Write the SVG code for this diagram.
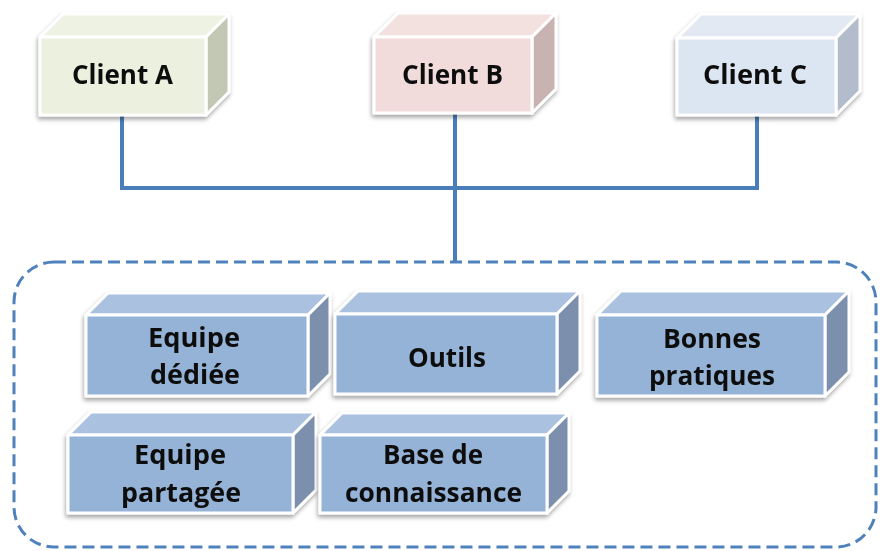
<svg xmlns="http://www.w3.org/2000/svg" width="880" height="551" viewBox="0 0 880 551">
<defs>
<filter id="sh" x="-10%" y="-10%" width="120%" height="130%">
<feDropShadow dx="-1" dy="3" stdDeviation="2" flood-color="#000" flood-opacity="0.35"/>
</filter>
<style>
.face{stroke:#fff;stroke-width:3;stroke-linejoin:round}
.fa{fill:#ebf1de}.ta{fill:#eef2e3}.ra{fill:#c3c8b5}
.fb{fill:#f2dcdb}.tb{fill:#f3e1df}.rb{fill:#c8b3b2}
.fc{fill:#dce6f2}.tc{fill:#e2e9f3}.rc{fill:#b3bccb}
.fi{fill:#95b3d7}.ti{fill:#abc1e0}.ri{fill:#7b8fad}
.lbl{font-family:"Open Sans","Liberation Sans",sans-serif;font-weight:bold;font-size:26px;fill:#111;text-anchor:middle}
.conn{fill:none;stroke:#4a7ebb;stroke-width:4}
.frame{fill:none;stroke:#4f81bd;stroke-width:3;stroke-dasharray:12 6}
</style>
</defs>
<rect width="880" height="551" fill="#fff"/>
<g id="connectors">
<path class="conn" d="M122,116 V188 M455,114 V263 M757,116 V188 M120,188 H759"/>
<rect class="frame" x="14" y="262" width="862" height="285" rx="40" ry="40"/>
</g>
<g id="client-a" filter="url(#sh)">
<polygon class="face ta" points="40,37 63,14 229,14 206,37"/>
<polygon class="face ra" points="206,37 229,14 229,92 206,115"/>
<rect class="face fa" x="40" y="37" width="166" height="78"/>
<text class="lbl" x="122.5" y="84" textLength="101" lengthAdjust="spacingAndGlyphs">Client A</text>
</g>
<g id="client-b" filter="url(#sh)">
<polygon class="face tb" points="374,37 398,13 556,13 532,37"/>
<polygon class="face rb" points="532,37 556,13 556,89 532,113"/>
<rect class="face fb" x="374" y="37" width="158" height="76"/>
<text class="lbl" x="452.5" y="84" textLength="101" lengthAdjust="spacingAndGlyphs">Client B</text>
</g>
<g id="client-c" filter="url(#sh)">
<polygon class="face tc" points="677,38 701,14 860,14 836,38"/>
<polygon class="face rc" points="836,38 860,14 860,91 836,115"/>
<rect class="face fc" x="677" y="38" width="159" height="77"/>
<text class="lbl" x="755" y="84" textLength="104" lengthAdjust="spacingAndGlyphs">Client C</text>
</g>
<g id="equipe-dediee" filter="url(#sh)">
<polygon class="face ti" points="86,315 108,293 330,293 308,315"/>
<polygon class="face ri" points="308,315 330,293 330,374 308,396"/>
<rect class="face fi" x="86" y="315" width="222" height="81"/>
<text class="lbl" x="194" y="347" textLength="92" lengthAdjust="spacingAndGlyphs">Equipe</text>
<text class="lbl" x="195" y="384" textLength="90" lengthAdjust="spacingAndGlyphs">dédiée</text>
</g>
<g id="outils" filter="url(#sh)">
<polygon class="face ti" points="335,314 358,291 580,291 557,314"/>
<polygon class="face ri" points="557,314 580,291 580,371 557,394"/>
<rect class="face fi" x="335" y="314" width="222" height="80"/>
<text class="lbl" x="447" y="367" textLength="78" lengthAdjust="spacingAndGlyphs">Outils</text>
</g>
<g id="bonnes-pratiques" filter="url(#sh)">
<polygon class="face ti" points="597,315 621,291 849,291 825,315"/>
<polygon class="face ri" points="825,315 849,291 849,372 825,396"/>
<rect class="face fi" x="597" y="315" width="228" height="81"/>
<text class="lbl" x="712" y="348" textLength="98" lengthAdjust="spacingAndGlyphs">Bonnes</text>
<text class="lbl" x="712" y="385" textLength="126" lengthAdjust="spacingAndGlyphs">pratiques</text>
</g>
<g id="equipe-partagee" filter="url(#sh)">
<polygon class="face ti" points="68,435 91,412 316,412 293,435"/>
<polygon class="face ri" points="293,435 316,412 316,490 293,513"/>
<rect class="face fi" x="68" y="435" width="225" height="78"/>
<text class="lbl" x="180" y="464" textLength="92" lengthAdjust="spacingAndGlyphs">Equipe</text>
<text class="lbl" x="181" y="502" textLength="120" lengthAdjust="spacingAndGlyphs">partagée</text>
</g>
<g id="base-connaissance" filter="url(#sh)">
<polygon class="face ti" points="320,435 342,413 569,413 547,435"/>
<polygon class="face ri" points="547,435 569,413 569,491 547,513"/>
<rect class="face fi" x="320" y="435" width="227" height="78"/>
<text class="lbl" x="433" y="464" textLength="100" lengthAdjust="spacingAndGlyphs">Base de</text>
<text class="lbl" x="433.5" y="502" textLength="177" lengthAdjust="spacingAndGlyphs">connaissance</text>
</g>
</svg>
